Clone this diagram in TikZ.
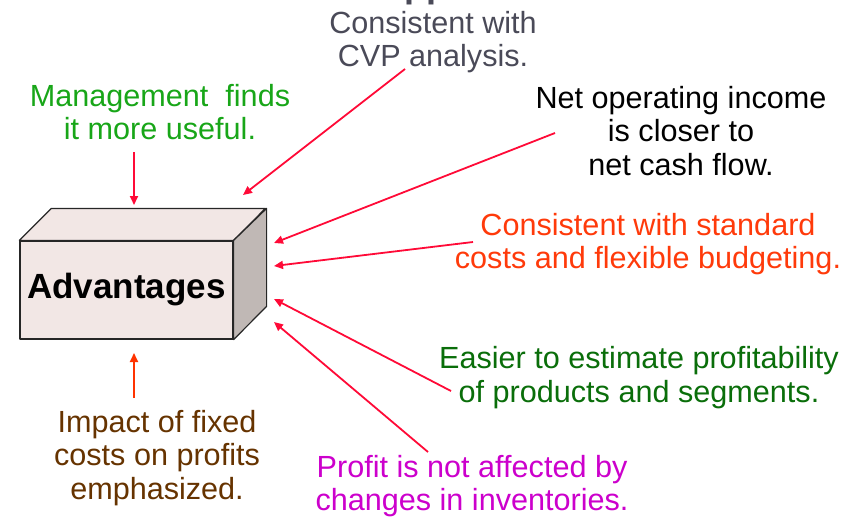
\documentclass[tikz,border=0pt]{standalone}
\usepackage{fontspec}
\setmainfont{Liberation Sans}
\usetikzlibrary{arrows.meta}
\definecolor{arrowred}{RGB}{255,10,55}
\definecolor{arroworange}{RGB}{255,51,0}
\definecolor{slategray}{RGB}{74,74,88}
\definecolor{mgmtgreen}{RGB}{24,166,24}
\definecolor{darkgreen}{RGB}{10,110,10}
\definecolor{stdorange}{RGB}{255,58,10}
\definecolor{profitmagenta}{RGB}{204,0,204}
\definecolor{impactbrown}{RGB}{102,51,0}
\definecolor{boxfront}{RGB}{242,231,229}
\definecolor{boxside}{RGB}{192,184,181}
\tikzset{
  label text/.style={inner sep=0pt, align=center, font=\fontsize{30.6}{33.5}\selectfont},
  pointer/.style={draw=arrowred, line width=1.8pt, -{Triangle[length=9pt,width=8pt]}},
  boxface/.style={draw=black!85, line width=1.2pt, line join=round},
}
\begin{document}
\begin{tikzpicture}[x=1pt,y=-1pt]
\useasboundingbox (0,0) rectangle (867,517);
\clip (0,0) rectangle (867,517);

% the box: front face carries the label, top and side faces give depth
\node[boxface, fill=boxfront, minimum width=213pt, minimum height=98pt, inner sep=0pt,
      font=\fontsize{35}{40}\selectfont\bfseries] (adv) at (126.5,290) {Advantages};
\draw[boxface, fill=boxfront] (adv.north west) -- ++(32,-32) -- ++(214,0) -- (adv.north east) -- cycle;
\draw[boxface, fill=boxside] (adv.north east) -- ++(33,-32) -- ++(0,98) -- (adv.south east) -- cycle;

% heading line running off the top edge
\node[inner sep=0pt, anchor=base, text=slategray, font=\fontsize{36}{40}\selectfont\bfseries] (head) at (426.5,-2.5) {pp};

% surrounding statements
\node[label text, text=slategray] (cvp) at (433,42) {Consistent with\\CVP analysis.};
\node[label text, text=mgmtgreen] (mgmt) at (160,112) {Management\ \ finds\\it more useful.};
\node[label text, text=black] (net) at (681,131) {Net operating income\\is closer to\\net cash flow.};
\node[label text, text=stdorange] (std) at (648,244) {Consistent with standard\\costs and flexible budgeting.};
\node[label text, text=darkgreen] (easier) at (639,377.5) {Easier to estimate profitability\\of products and segments.};
\node[label text, text=profitmagenta] (profit) at (472,486) {Profit is not affected by\\changes in inventories.};
\node[label text, text=impactbrown] (impact) at (157,458) {Impact of fixed\\costs on profits\\emphasized.};

% arrow start points next to the statements
\coordinate (s1) at (134,152);
\coordinate (s2) at (405,69);
\coordinate (s3) at (555,133);
\coordinate (s4) at (473,242);
\coordinate (s5) at (451,391);
\coordinate (s6) at (428,452);
\coordinate (s7) at (134,398);

% arrow tips around the box
\coordinate (e1) at (134,205);
\coordinate (e2) at (243,195);
\coordinate (e3) at (274,243);
\coordinate (e4) at (274,266);
\coordinate (e5) at (274,299);
\coordinate (e6) at (274,322);
\coordinate (e7) at (134,353);

\draw[pointer] (s1) -- (e1);
\draw[pointer] (s2) -- (e2);
\draw[pointer] (s3) -- (e3);
\draw[pointer] (s4) -- (e4);
\draw[pointer] (s5) -- (e5);
\draw[pointer] (s6) -- (e6);
\draw[pointer, draw=arroworange] (s7) -- (e7);
\end{tikzpicture}
\end{document}
